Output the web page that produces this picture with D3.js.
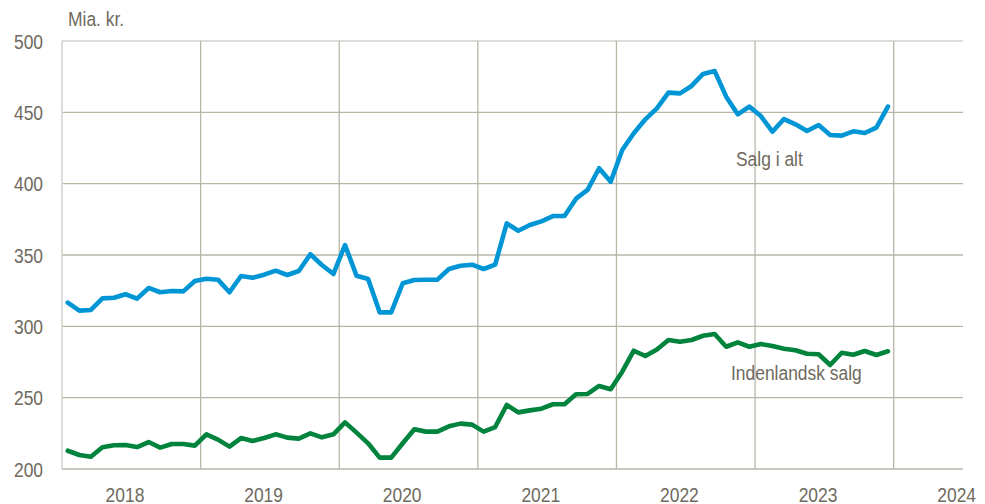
<!DOCTYPE html>
<html>
<head>
<meta charset="utf-8">
<script src="https://cdn.jsdelivr.net/npm/d3@7"></script>
<style>
  html, body { margin: 0; padding: 0; background: #fff; }
  svg { display: block; }
  text { font-family: "Liberation Sans", Arial, sans-serif; fill: #6e6a5e; }
</style>
</head>
<body>
<svg id="chart" width="985" height="504"></svg>
<script>
// ---- data (monthly, Jan 2018 – Dec 2023), mia. kr.
const yearLabels = ["2018", "2019", "2020", "2021", "2022", "2023", "2024"];
const yTicks = [200, 250, 300, 350, 400, 450, 500];
const salgIAlt = [
  316.6, 311, 311.5, 319.6, 320, 322.5, 319.4, 326.9, 323.9, 324.8, 324.5, 331.8,
  333.4, 332.7, 323.9, 335.3, 334.1, 336.2, 339, 336, 338.8, 350.5, 343, 336.7,
  357, 335.5, 333.2, 309.8, 309.8, 330.2, 332.5, 332.7, 332.7, 340.2, 342.5, 343.2,
  340.2, 343.2, 372.2, 367, 371, 373.6, 377.3, 377.3, 389.5, 395.6, 410.8, 401.4,
  423.6, 435.3, 445.1, 452.8, 463.8, 463.3, 468.5, 476.9, 479, 461, 448.6, 454,
  447.4, 436.4, 445.3, 441.6, 436.9, 441.1, 434.1, 433.7, 436.7, 435.5, 439.3, 454
];
const indenlandskSalg = [
  212.8, 209.8, 208.6, 215.2, 216.6, 216.8, 215.4, 218.9, 215, 217.5, 217.5, 216.4,
  224.3, 220.6, 215.7, 221.7, 219.6, 221.7, 224.3, 222, 221.3, 225, 222.2, 224.3,
  232.7, 225.5, 218, 208, 208, 218, 227.8, 226.2, 226.2, 229.9, 231.8, 231.1,
  226.2, 229.4, 244.9, 239.7, 241.1, 242.3, 245.4, 245.4, 252.4, 252.6, 258.2, 255.9,
  268.2, 282.9, 279.2, 283.7, 290.4, 289.2, 290.4, 293.4, 294.6, 285.7, 288.8, 285.7,
  287.6, 286.2, 284.3, 283.2, 280.8, 280.4, 272.9, 281.5, 280.1, 282.7, 279.9, 282.5
];
const seriesNames = ["Salg i alt", "Indenlandsk salg"];
const seriesColors = ["#0096d6", "#00843d"];
const unitLabel = "Mia. kr.";

// ---- layout
const svg = d3.select("#chart");
const L = 62, R = 963, T = 41, B = 469;
const x = d3.scaleLinear().domain([-0.5, 77.5]).range([L, R]);
const y = d3.scaleLinear().domain([200, 500]).range([B, T]);
const SX = 0.83; // condensed text look

function txt(g, xx, yy, s, anchor, size) {
  return g.append("text")
    .attr("transform", `translate(${xx},${yy}) scale(${SX},1)`)
    .attr("text-anchor", anchor)
    .style("font-size", size + "px")
    .text(s);
}

// horizontal gridlines
const hg = svg.append("g");
hg.selectAll("line").data(yTicks).join("line")
  .attr("x1", L).attr("x2", R)
  .attr("y1", d => y(d)).attr("y2", d => y(d))
  .attr("stroke", d => d === 500 ? "#d3d1c8" : "#b9b6a8")
  .attr("stroke-width", 1.3);

// vertical gridlines at year boundaries
const yearBounds = d3.range(1, 7).map(k => 12 * k - 0.5);
hg.selectAll("line.v").data(yearBounds).join("line").attr("class", "v")
  .attr("x1", d => x(d)).attr("x2", d => x(d))
  .attr("y1", T).attr("y2", B)
  .attr("stroke", "#b9b6a8").attr("stroke-width", 1.3);

// left axis line
svg.append("line").attr("x1", L).attr("x2", L).attr("y1", T).attr("y2", B)
  .attr("stroke", "#d3d1c8").attr("stroke-width", 1.5);

// y labels
const yl = svg.append("g");
yTicks.forEach(v => txt(yl, 43, y(v) + 7.5, String(v), "end", 21));
txt(yl, 68, 26, unitLabel, "start", 21);

// x labels
const xl = svg.append("g");
yearLabels.forEach((s, k) => txt(xl, x(12 * k - 0.5 + 5.45), 502, s, "middle", 21));

// lines
const line = d3.line().x((d, i) => x(i)).y(d => y(d));
[salgIAlt, indenlandskSalg].forEach((s, k) => {
  svg.append("path").datum(s)
    .attr("d", line)
    .attr("fill", "none")
    .attr("stroke", seriesColors[k])
    .attr("stroke-width", 4.6)
    .attr("stroke-linejoin", "round")
    .attr("stroke-linecap", "round");
});

// series labels
const sl = svg.append("g");
txt(sl, 736, 166, seriesNames[0], "start", 21);
txt(sl, 731, 380, seriesNames[1], "start", 21);
</script>
</body>
</html>
